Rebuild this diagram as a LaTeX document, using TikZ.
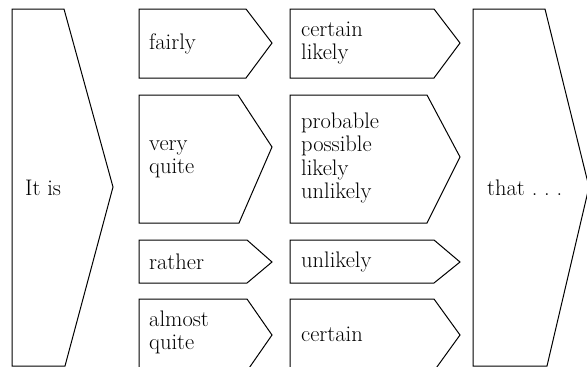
\documentclass[tikz,border=0pt]{standalone}
\begin{document}
\begin{tikzpicture}[x=1pt,y=-1pt,
  shp/.style={draw=black,line width=1pt,line join=miter},
  lbl/.style={anchor=west,inner sep=0pt,align=left,font=\fontsize{22.5}{23.5}\selectfont}]
\useasboundingbox (0,0) rectangle (587,367);
\clip (0,0) rectangle (587,367);
% left big shape
\draw[shp] (12,9) -- (64,9) -- (113,187) -- (65,366) -- (12,366) -- cycle;
% column 2
\draw[shp] (139,9) -- (246,9) -- (272,43) -- (246,78) -- (139,78) -- cycle;
\draw[shp] (139,95) -- (238,95) -- (272,147) -- (239,223) -- (139,223) -- cycle;
\draw[shp] (139,240) -- (247,240) -- (272,262) -- (247,283) -- (139,283) -- cycle;
\draw[shp] (139,299) -- (247,299) -- (272,335) -- (247,371) -- (139,371) -- cycle;
% column 3
\draw[shp] (290,9) -- (434,9) -- (460,43) -- (434,78) -- (290,78) -- cycle;
\draw[shp] (290,95) -- (427,95) -- (460,157) -- (427,223) -- (290,223) -- cycle;
\draw[shp] (290,240) -- (434,240) -- (460,262) -- (434,283) -- (290,283) -- cycle;
\draw[shp] (290,299) -- (434,299) -- (460,335) -- (434,371) -- (290,371) -- cycle;
% right big shape
\draw[shp] (473,9) -- (545,9) -- (589,187) -- (547,366) -- (473,366) -- cycle;
% labels
\node[lbl] (itis) at (25,187.5) {It is};
\node[lbl] (fairly) at (149,43.5) {fairly};
\node[lbl] (veryquite) at (149,159) {very\\quite};
\node[lbl] (rather) at (149,261.5) {rather};
\node[lbl] (almostquite) at (149,332.5) {almost\\quite};
\node[lbl] (certainlikely) at (301,43) {certain\\likely};
\node[lbl] (probable) at (301,158) {probable\\possible\\likely\\unlikely};
\node[lbl] (unlikely) at (301,261.5) {unlikely};
\node[lbl] (certain) at (301,334) {certain};
\node[lbl] (that) at (487,187.5) {that~.~.~.};
\end{tikzpicture}
\end{document}
